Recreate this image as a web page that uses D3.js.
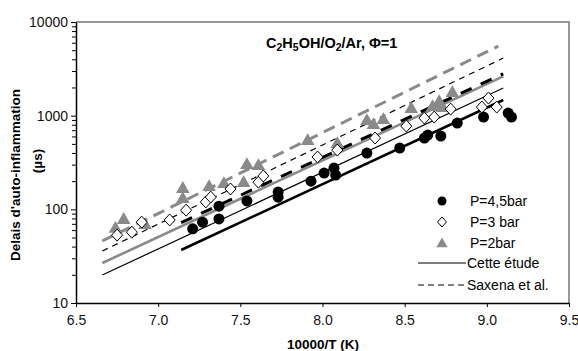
<html>
<head>
  <script src="https://d3js.org/d3.v7.min.js"></script>
  <style>
    body { margin: 0; background: #fff; }
    text { font-family: "Liberation Sans", Arial, sans-serif; }
  </style>
</head>
<body>
<svg width="578" height="351"></svg>
<script>
// ignition delays (x = 10000/T, y = delay in µs)
var p45X = [7.21, 7.27, 7.37, 7.37, 7.54, 7.73, 7.73, 7.93, 8.01, 8.07, 8.08, 8.27, 8.47, 8.62, 8.64, 8.72, 8.82, 8.98, 9.13, 9.15];
var p45Y = [62, 73, 79, 108, 123, 135, 153, 200, 244, 276, 232, 399, 451, 577, 621, 606, 834, 966, 1067, 966];

var p3X = [6.75, 6.84, 6.90, 7.07, 7.17, 7.29, 7.32, 7.44, 7.61, 7.64, 7.97, 8.09, 8.32, 8.51, 8.62, 8.68, 8.78, 8.97, 9.01, 9.06];
var p3Y = [53, 57, 73, 77, 98, 120, 135, 165, 195, 227, 362, 429, 577, 774, 942, 966, 1175, 1236, 1541, 1236];

var p2X = [6.74, 6.79, 6.92, 7.15, 7.15, 7.31, 7.40, 7.52, 7.54, 7.61, 7.91, 8.09, 8.27, 8.31, 8.37, 8.54, 8.67, 8.71, 8.73, 8.79];
var p2Y = [62, 77, 68, 165, 129, 173, 186, 191, 297, 290, 536, 498, 875, 794, 898, 1175, 1236, 1397, 1205, 1742];

// fitted lines (end points)
var etude3X = [6.66, 9.10], etude3Y = [19.9, 1973];
var etude2X = [6.66, 9.10], etude2Y = [26.7, 2630];
var etude45X = [7.14, 9.10], etude45Y = [36.8, 1469];
var saxena3X = [6.66, 9.10], saxena3Y = [35.9, 4120];
var saxena2X = [6.66, 9.07], saxena2Y = [45.9, 5530];
var saxena45X = [7.14, 9.10], saxena45Y = [72, 2800];

var xTicks = [6.5, 7.0, 7.5, 8.0, 8.5, 9.0, 9.5];
var yTicks = [10, 100, 1000, 10000];

var gray = "#8a8a8a";
var svg = d3.select("svg");

var x = d3.scaleLinear().domain([6.5, 9.5]).range([76, 569]);
var y = d3.scaleLog().domain([10, 10000]).range([303, 22]);

// frame (top + right)
svg.append("path")
  .attr("d", "M76,22H569V303")
  .attr("fill", "none")
  .attr("stroke", "#777")
  .attr("stroke-width", 1.5);

// minor y ticks
var minor = [];
[10, 100, 1000].forEach(function(d) {
  for (var k = 2; k < 10; k++) minor.push(d * k);
});
svg.append("g")
  .attr("transform", "translate(76,0)")
  .call(d3.axisLeft(y).tickValues(minor).tickSize(4).tickFormat(""))
  .call(function(g) { g.select(".domain").remove(); });

var yAxis = svg.append("g")
  .attr("transform", "translate(76,0)")
  .call(d3.axisLeft(y).tickValues(yTicks).tickSize(5).tickSizeOuter(0).tickFormat(d3.format("d")));
yAxis.selectAll("text").attr("font-size", "14px").attr("fill", "#111").attr("x", -8).attr("font-family", "Liberation Sans, Arial");
yAxis.select(".domain").attr("stroke-width", 1.5);

var xAxis = svg.append("g")
  .attr("transform", "translate(0,303)")
  .call(d3.axisBottom(x).tickValues(xTicks).tickSize(4).tickSizeOuter(0).tickFormat(d3.format(".1f")));
xAxis.selectAll("text").attr("font-size", "14px").attr("fill", "#111").attr("y", 12).attr("font-family", "Liberation Sans, Arial");
xAxis.select(".domain").attr("stroke-width", 1.5);

// axis titles
svg.append("text")
  .attr("x", 323).attr("y", 349)
  .attr("text-anchor", "middle")
  .attr("font-size", "13.5px").attr("font-weight", "bold")
  .text("10000/T (K)");

svg.append("text")
  .attr("transform", "translate(20,175) rotate(-90)")
  .attr("text-anchor", "middle")
  .attr("font-size", "13.5px").attr("font-weight", "bold")
  .text("Delais d'auto-inflammation");
svg.append("text")
  .attr("transform", "translate(42,161) rotate(-90)")
  .attr("text-anchor", "middle")
  .attr("font-size", "13.5px").attr("font-weight", "bold")
  .text("(µs)");

// title
var title = svg.append("text")
  .attr("x", 266).attr("y", 48)
  .attr("font-size", "14.5px").attr("font-weight", "bold");
title.append("tspan").text("C");
title.append("tspan").attr("font-size", "10.5px").attr("dy", 3).text("2");
title.append("tspan").attr("dy", -3).text("H");
title.append("tspan").attr("font-size", "10.5px").attr("dy", 3).text("5");
title.append("tspan").attr("dy", -3).text("OH/O");
title.append("tspan").attr("font-size", "10.5px").attr("dy", 3).text("2");
title.append("tspan").attr("dy", -3).text("/Ar, Φ=1");

// lines
var line = d3.line()
  .x(function(d) { return x(d[0]); })
  .y(function(d) { return y(d[1]); });

function drawLine(xs, ys, color, width, dash) {
  svg.append("path")
    .datum(d3.zip(xs, ys))
    .attr("d", line)
    .attr("fill", "none")
    .attr("stroke", color)
    .attr("stroke-width", width)
    .attr("stroke-dasharray", dash);
}
drawLine(etude3X, etude3Y, "#000", 1.2, null);
drawLine(etude2X, etude2Y, gray, 2.6, null);
drawLine(etude45X, etude45Y, "#000", 2.6, null);
drawLine(saxena3X, saxena3Y, "#000", 1.2, "6,5");
drawLine(saxena2X, saxena2Y, gray, 3, "12,7");
drawLine(saxena45X, saxena45Y, "#000", 3, "12,10");

// points
var tri = d3.symbol().type(d3.symbolTriangle).size(80);
var dia = "M0,-6L5.5,0L0,6L-5.5,0Z";

svg.append("g").selectAll("path")
  .data(d3.zip(p2X, p2Y))
  .enter().append("path")
  .attr("transform", function(d) { return "translate(" + x(d[0]) + "," + y(d[1]) + ")"; })
  .attr("d", tri)
  .attr("fill", gray);

svg.append("g").selectAll("path")
  .data(d3.zip(p3X, p3Y))
  .enter().append("path")
  .attr("transform", function(d) { return "translate(" + x(d[0]) + "," + y(d[1]) + ")"; })
  .attr("d", dia)
  .attr("fill", "#fff")
  .attr("stroke", "#000")
  .attr("stroke-width", 1);

svg.append("g").selectAll("circle")
  .data(d3.zip(p45X, p45Y))
  .enter().append("circle")
  .attr("cx", function(d) { return x(d[0]); })
  .attr("cy", function(d) { return y(d[1]); })
  .attr("r", 5.5)
  .attr("fill", "#000");

// legend
var lg = svg.append("g").attr("font-size", "14px");
lg.append("circle").attr("cx", 442).attr("cy", 201).attr("r", 4.5).attr("fill", "#000");
lg.append("text").attr("x", 470).attr("y", 206).text("P=4,5bar");
lg.append("path").attr("transform", "translate(442,222)").attr("d", "M0,-5L4.5,0L0,5L-4.5,0Z")
  .attr("fill", "#fff").attr("stroke", "#000");
lg.append("text").attr("x", 470).attr("y", 227).text("P=3 bar");
lg.append("path").attr("transform", "translate(442,244)").attr("d", d3.symbol().type(d3.symbolTriangle).size(55))
  .attr("fill", gray);
lg.append("text").attr("x", 470).attr("y", 248).text("P=2bar");
lg.append("line").attr("x1", 418).attr("x2", 466).attr("y1", 263).attr("y2", 263).attr("stroke", "#000").attr("stroke-width", 1.2);
lg.append("text").attr("x", 467).attr("y", 268).text("Cette étude");
lg.append("line").attr("x1", 418).attr("x2", 466).attr("y1", 285).attr("y2", 285).attr("stroke", "#000").attr("stroke-width", 1.2).attr("stroke-dasharray", "6,4");
lg.append("text").attr("x", 467).attr("y", 290).text("Saxena et al.");
</script>
</body>
</html>
